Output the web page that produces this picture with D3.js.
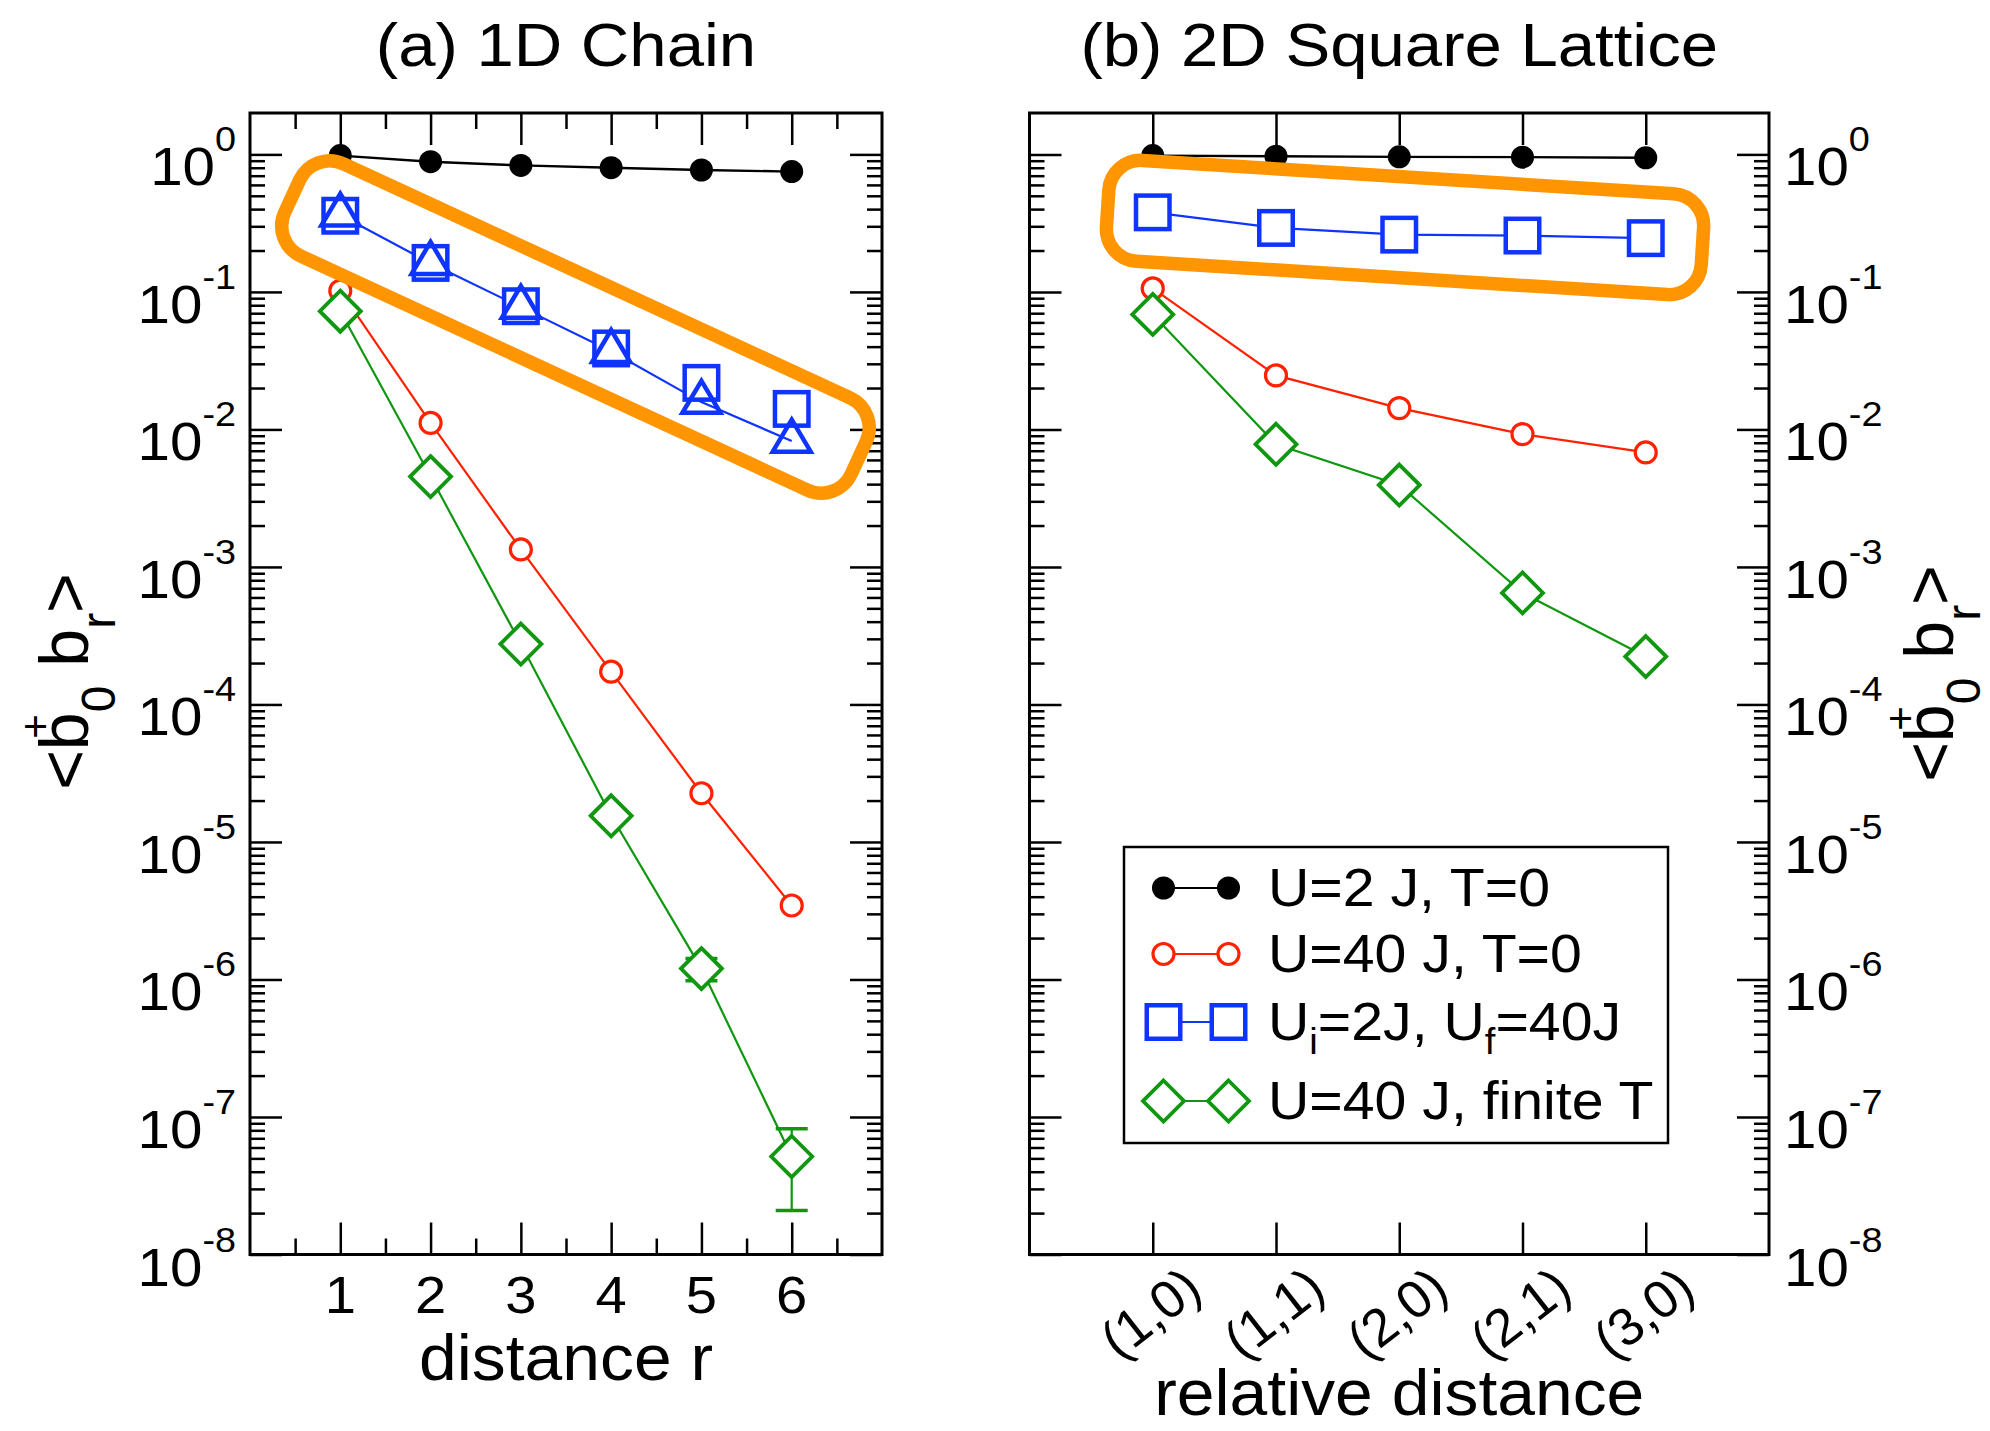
<!DOCTYPE html>
<html><head><meta charset="utf-8">
<script src="https://cdn.jsdelivr.net/npm/d3@7"></script>
<style>
html,body{margin:0;padding:0;background:#fff;}
svg{display:block;}
text{font-family:"Liberation Sans",Arial,Helvetica,sans-serif;fill:#000;white-space:pre;}
</style></head>
<body><svg id="chart" width="1990" height="1431"></svg>
<script>
// ---------------- data ----------------
const decadeExps = [0, -1, -2, -3, -4, -5, -6, -7, -8];

// (a) 1D chain
const chainDistances = [1, 2, 3, 4, 5, 6];
const chainTickLabels = ["1", "2", "3", "4", "5", "6"];
const chainMinorTicks = [0.5, 1.5, 2.5, 3.5, 4.5, 5.5, 6.5];
const chainU2T0 = [0.98, 0.885, 0.832, 0.80, 0.77, 0.75];
const chainU40T0 = [0.102, 0.01115, 1.34e-3, 1.73e-4, 2.26e-5, 3.45e-6];
const chainQuenchSquares = [0.358, 0.1625, 0.0787, 0.0388, 0.0218, 0.0141];
const chainQuenchTriangles = [0.363, 0.1616, 0.0775, 0.037, 0.0158, 0.00824];
const chainU40FiniteT = [0.0724, 4.54e-3, 2.75e-4, 1.55e-5, 1.2e-6, 5.16e-8];
const chainFiniteTErrLow = [null, null, null, null, 0.98e-6, 2.09e-8];
const chainFiniteTErrHigh = [null, null, null, null, 1.42e-6, 8.2e-8];

// (b) 2D square lattice
const latticePositions = [1, 2, 3, 4, 5];
const latticeTickLabels = ["(1,0)", "(1,1)", "(2,0)", "(2,1)", "(3,0)"];
const latticeU2T0 = [0.98, 0.97, 0.96, 0.955, 0.945];
const latticeU40T0 = [0.106, 0.0247, 0.01429, 9.24e-3, 6.8e-3];
const latticeQuench = [0.379, 0.292, 0.261, 0.257, 0.246];
const latticeU40FiniteT = [0.0686, 7.8e-3, 3.94e-3, 6.47e-4, 2.23e-4];

const legendLabels = ["U=2 J, T=0", "U=40 J, T=0", "U_i=2J, U_f=40J", "U=40 J, finite T"];
const panelTitles = ["(a) 1D Chain", "(b) 2D Square Lattice"];
const xTitles = ["distance r", "relative distance"];

// ---------------- styles ----------------
const BLACK = "#000000", RED = "#ff2200", BLUE = "#1034ff", GREEN = "#0f970f", ORANGE = "#ff9500";

// highlight annotations (centre in data coordinates, geometry in px)
const chainHighlight = {cx: 3.605, cy: 0.0556, halfLen: 312, halfWid: 50.8, corner: 33, angle: 24.8};
const latticeHighlight = {cx: 3.047, cy: 0.294, halfLen: 298, halfWid: 50.5, corner: 32, angle: 3.6};

const svg = d3.select("#chart");
const yScale = d3.scaleLog().domain([1e-8, 2]).range([1254.5, 113]);
const xChain = d3.scaleLinear().domain([0, 7]).range([250, 882]);
const xLattice = d3.scaleLinear().domain([0, 6]).range([1029.5, 1769]);

const majorY = decadeExps.map(e => Math.pow(10, e));
const minorY = [];
decadeExps.forEach(e => {
  for (let m = 2; m <= 9; m++) {
    const v = m * Math.pow(10, e);
    if (v < 2 && v > 1e-8) minorY.push(v);
  }
});

function addAxis(g, axis, tr) {
  const a = g.append("g").attr("transform", tr).call(axis.tickFormat(""));
  a.select(".domain").remove();
  a.selectAll(".tick text").remove();
  a.selectAll(".tick line").attr("stroke", "#000").attr("stroke-width", 2.5);
}

function frame(g, xs, majorsX, minorsX) {
  const [x0, x1] = xs.range();
  const [yb, yt] = yScale.range();
  addAxis(g, d3.axisLeft(yScale).tickValues(majorY).tickSize(-32), `translate(${x0},0)`);
  addAxis(g, d3.axisLeft(yScale).tickValues(minorY).tickSize(-15), `translate(${x0},0)`);
  addAxis(g, d3.axisRight(yScale).tickValues(majorY).tickSize(-32), `translate(${x1},0)`);
  addAxis(g, d3.axisRight(yScale).tickValues(minorY).tickSize(-15), `translate(${x1},0)`);
  addAxis(g, d3.axisBottom(xs).tickValues(majorsX).tickSize(-32), `translate(0,${yb})`);
  addAxis(g, d3.axisTop(xs).tickValues(majorsX).tickSize(-32), `translate(0,${yt})`);
  if (minorsX) {
    addAxis(g, d3.axisBottom(xs).tickValues(minorsX).tickSize(-16), `translate(0,${yb})`);
    addAxis(g, d3.axisTop(xs).tickValues(minorsX).tickSize(-16), `translate(0,${yt})`);
  }
  g.append("rect").attr("x", x0).attr("y", yt).attr("width", x1 - x0).attr("height", yb - yt)
    .attr("fill", "none").attr("stroke", "#000").attr("stroke-width", 3);
}

function yLabels(g, anchor, xPos) {
  decadeExps.forEach(e => {
    const t = g.append("text")
      .attr("transform", `translate(${xPos},${yScale(Math.pow(10, e)) + 31}) scale(1.08,1)`)
      .attr("font-size", 54).attr("text-anchor", anchor);
    t.append("tspan").text("10");
    t.append("tspan").attr("font-size", 35).attr("dy", -34).text(String(e));
  });
}

function marker(g, type, x, y, color) {
  if (type === "dot") {
    g.append("circle").attr("cx", x).attr("cy", y).attr("r", 11.5).attr("fill", color);
  } else if (type === "circle") {
    g.append("circle").attr("cx", x).attr("cy", y).attr("r", 10.5)
      .attr("fill", "#fff").attr("stroke", color).attr("stroke-width", 3.2);
  } else if (type === "square") {
    g.append("rect").attr("x", x - 16.75).attr("y", y - 16.75).attr("width", 33.5).attr("height", 33.5)
      .attr("fill", "#fff").attr("stroke", color).attr("stroke-width", 4.5);
  } else if (type === "triangle") {
    g.append("path").attr("d", `M${x},${y - 21.3}L${x + 19},${y + 10.7}L${x - 19},${y + 10.7}Z`)
      .attr("fill", "none").attr("stroke", color).attr("stroke-width", 4.5).attr("stroke-linejoin", "miter");
  } else if (type === "diamond") {
    const d = 20.5;
    g.append("path").attr("d", `M${x},${y - d}L${x + d},${y}L${x},${y + d}L${x - d},${y}Z`)
      .attr("fill", "#fff").attr("stroke", color).attr("stroke-width", 3.8);
  }
}

function series(g, xs, xv, yv, color, type, withLine, lw) {
  if (withLine) {
    const line = d3.line().x((d, i) => xs(xv[i])).y(d => yScale(d));
    g.append("path").datum(yv).attr("d", line).attr("fill", "none")
      .attr("stroke", color).attr("stroke-width", lw || 2.2);
  }
  if (type) yv.forEach((v, i) => marker(g, type, xs(xv[i]), yScale(v), color));
}

function highlight(g, xs, h) {
  g.append("rect")
    .attr("transform", `translate(${xs(h.cx)},${yScale(h.cy)}) rotate(${h.angle})`)
    .attr("x", -h.halfLen).attr("y", -h.halfWid)
    .attr("width", 2 * h.halfLen).attr("height", 2 * h.halfWid)
    .attr("rx", h.corner).attr("ry", h.corner)
    .attr("fill", "none").attr("stroke", ORANGE).attr("stroke-width", 13.5);
}

function yTitle(x, yc) {
  const t = svg.append("text").attr("transform", `translate(${x},${yc}) rotate(-90)`)
    .attr("font-size", 68).attr("text-anchor", "middle");
  t.append("tspan").text("<b");
  t.append("tspan").attr("font-size", 42).attr("dx", -26.5).attr("dy", -38).text("+");
  t.append("tspan").attr("font-size", 48).attr("dx", 2).attr("dy", 65).text("0");
  t.append("tspan").attr("dy", -27).text(" b");
  t.append("tspan").attr("font-size", 48).attr("dy", 27).text("r");
  t.append("tspan").attr("dy", -27).text(">");
}

function richText(t, str, subSize, subDy) {
  let inSub = false;
  str.split(/(_\w)/).forEach(p => {
    if (!p) return;
    if (p[0] === "_") {
      t.append("tspan").attr("font-size", subSize).attr("dy", subDy).text(p.slice(1));
      inSub = true;
    } else {
      t.append("tspan").attr("dy", inSub ? -subDy : 0).text(p);
      inSub = false;
    }
  });
}

// ---------------- panel (a) ----------------
const gA = svg.append("g");
frame(gA, xChain, chainDistances, chainMinorTicks);
yLabels(gA, "end", 236);
chainTickLabels.forEach((s, i) => {
  gA.append("text").attr("transform", `translate(${xChain(chainDistances[i])},1313) scale(1.1,1)`)
    .attr("font-size", 51).attr("text-anchor", "middle").text(s);
});
series(gA, xChain, chainDistances, chainU2T0, BLACK, "dot", true, 2.4);
series(gA, xChain, chainDistances, chainU40T0, RED, "circle", true);
// error bars
chainDistances.forEach((r, i) => {
  if (chainFiniteTErrLow[i] == null) return;
  const x = xChain(r), yl = yScale(chainFiniteTErrLow[i]), yh = yScale(chainFiniteTErrHigh[i]);
  gA.append("line").attr("x1", x).attr("x2", x).attr("y1", yl).attr("y2", yh).attr("stroke", GREEN).attr("stroke-width", 2.2);
  [yl, yh].forEach(yy => gA.append("line").attr("x1", x - 16).attr("x2", x + 16).attr("y1", yy).attr("y2", yy)
    .attr("stroke", GREEN).attr("stroke-width", 3.5));
});
series(gA, xChain, chainDistances, chainU40FiniteT, GREEN, "diamond", true);
series(gA, xChain, chainDistances, chainQuenchTriangles, BLUE, null, true);
series(gA, xChain, chainDistances, chainQuenchSquares, BLUE, "square", false);
series(gA, xChain, chainDistances, chainQuenchTriangles, BLUE, "triangle", false);
highlight(gA, xChain, chainHighlight);

// ---------------- panel (b) ----------------
const gB = svg.append("g");
frame(gB, xLattice, latticePositions, null);
yLabels(gB, "start", 1784);
latticeTickLabels.forEach((s, i) => {
  gB.append("text").attr("transform", `translate(${xLattice(latticePositions[i])},1316) rotate(-38)`)
    .attr("font-size", 53).attr("text-anchor", "middle").attr("dy", "0.27em").text(s);
});
series(gB, xLattice, latticePositions, latticeU2T0, BLACK, "dot", true, 2.4);
series(gB, xLattice, latticePositions, latticeU40T0, RED, "circle", true);
series(gB, xLattice, latticePositions, latticeU40FiniteT, GREEN, "diamond", true);
series(gB, xLattice, latticePositions, latticeQuench, BLUE, "square", true);
highlight(gB, xLattice, latticeHighlight);

// ---------------- legend ----------------
const legend = svg.append("g");
legend.append("rect").attr("x", 1124).attr("y", 847).attr("width", 544).attr("height", 296)
  .attr("fill", "#fff").attr("stroke", "#000").attr("stroke-width", 2.5);
const legendStyles = [[BLACK, "dot"], [RED, "circle"], [BLUE, "square"], [GREEN, "diamond"]];
const legendBaselines = [906, 972, 1040, 1119];
legendLabels.forEach((lab, i) => {
  const [color, type] = legendStyles[i];
  const yb = legendBaselines[i], ym = yb - 18;
  legend.append("line").attr("x1", 1163.5).attr("x2", 1228.5).attr("y1", ym).attr("y2", ym)
    .attr("stroke", color).attr("stroke-width", 2.2);
  marker(legend, type, 1163.5, ym, color);
  marker(legend, type, 1228.5, ym, color);
  const t = legend.append("text").attr("transform", `translate(1268,${yb}) scale(1.06,1)`).attr("font-size", 54);
  richText(t, lab, 36, 14);
});

// ---------------- titles ----------------
[xChain, xLattice].forEach((xs, i) => {
  const c = (xs.range()[0] + xs.range()[1]) / 2;
  svg.append("text").attr("transform", `translate(${c},66) scale(1.1,1)`)
    .attr("font-size", 61).attr("text-anchor", "middle").text(panelTitles[i]);
  svg.append("text").attr("transform", `translate(${c},${i === 0 ? 1380 : 1415}) scale(1.06,1)`)
    .attr("font-size", 64).attr("text-anchor", "middle").text(xTitles[i]);
});
yTitle(88, 681.5);
yTitle(1953, 673.5);
</script>
</body></html>
